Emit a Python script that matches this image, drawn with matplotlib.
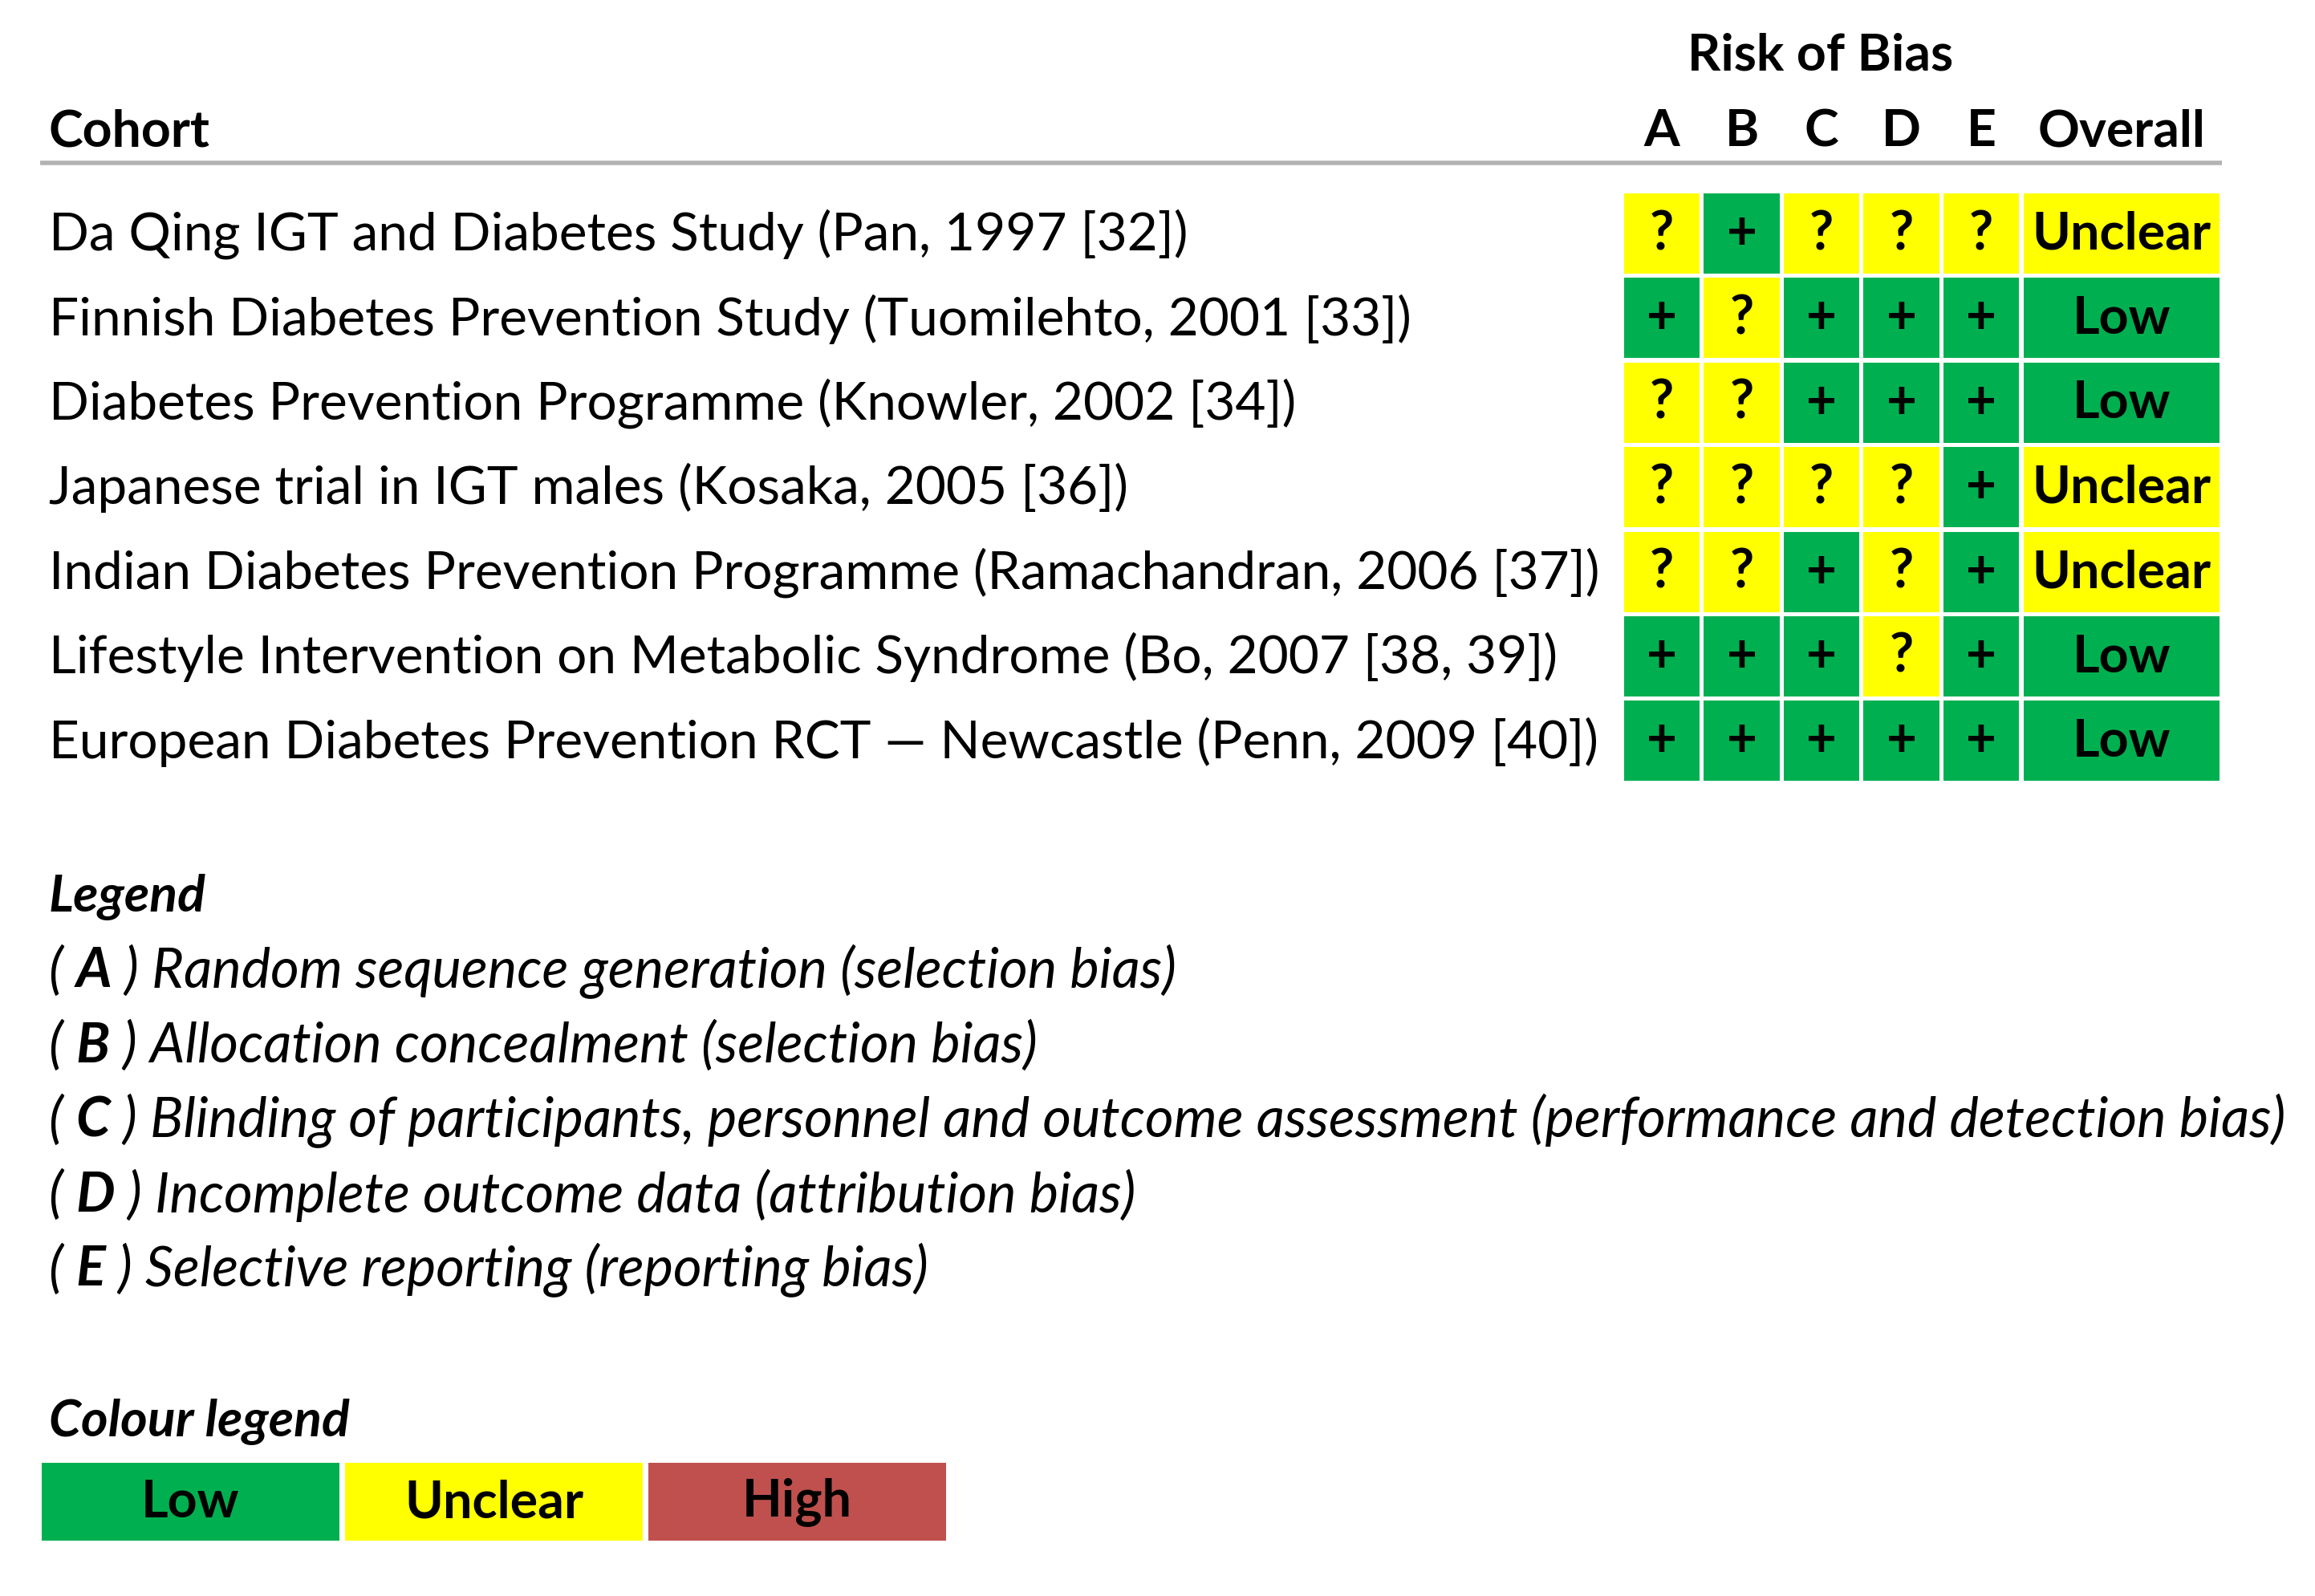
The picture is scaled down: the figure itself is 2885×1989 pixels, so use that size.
import matplotlib
matplotlib.use("Agg")
import matplotlib.pyplot as plt
from matplotlib.patches import Rectangle

FONT = ["Lato", "DejaVu Sans"]

# risk of bias table
cohorts = [
    "Da Qing IGT and Diabetes Study (Pan, 1997 [32])",
    "Finnish Diabetes Prevention Study (Tuomilehto, 2001 [33])",
    "Diabetes Prevention Programme (Knowler, 2002 [34])",
    "Japanese trial in IGT males (Kosaka, 2005 [36])",
    "Indian Diabetes Prevention Programme (Ramachandran, 2006 [37])",
    "Lifestyle Intervention on Metabolic Syndrome (Bo, 2007 [38, 39])",
    "European Diabetes Prevention RCT \u2014 Newcastle (Penn, 2009 [40])",
]
domains = ["A", "B", "C", "D", "E"]
bias_A = ["?", "+", "?", "?", "?", "+", "+"]
bias_B = ["+", "?", "?", "?", "?", "+", "+"]
bias_C = ["?", "+", "+", "?", "+", "+", "+"]
bias_D = ["?", "+", "+", "?", "?", "?", "+"]
bias_E = ["?", "+", "+", "+", "+", "+", "+"]
overall = ["Unclear", "Low", "Low", "Unclear", "Unclear", "Low", "Low"]

legend_keys = ["A", "B", "C", "D", "E"]
legend_text = [
    "Random sequence generation (selection bias)",
    "Allocation concealment (selection bias)",
    "Blinding of participants, personnel and outcome assessment (performance and detection bias)",
    "Incomplete outcome data (attribution bias)",
    "Selective reporting (reporting bias)",
]
colour_levels = ["Low", "Unclear", "High"]

GREEN = "#00B050"
YELLOW = "#FFFF00"
RED = "#C0504D"
symbol_colour = {"+": GREEN, "?": YELLOW}
level_colour = {"Low": GREEN, "Unclear": YELLOW, "High": RED}

W, H = 2885, 1990
fig = plt.figure(figsize=(W / 100, H / 100), dpi=100)
ax = fig.add_axes([0, 0, 1, 1])
ax.set_xlim(0, W)
ax.set_ylim(H, 0)
ax.axis("off")
renderer = fig.canvas.get_renderer()

S = 0.995  # small global correction of the layout


def fit_size(s, target, weight="normal", style="normal"):
    t = ax.text(0, 0, s, fontsize=40, fontweight=weight, fontstyle=style, family=FONT)
    w = t.get_window_extent(renderer).width
    t.remove()
    return 40 * target * S / w


def text_width(s, size, weight="normal", style="normal"):
    t = ax.text(0, 0, s, fontsize=size, fontweight=weight, fontstyle=style, family=FONT)
    w = t.get_window_extent(renderer).width
    t.remove()
    return w


# layout (pixels)
left_x = 61 * S
row_y0, row_step = 292, 105.4
cell_h = 100
col_left0, col_step, col_w = 2034 * S, 100 * S, 95 * S
over_left, over_w = 2535 * S, 245 * S
head_y = 164

row_fs = fit_size(cohorts[4], 1940)
head_fs = fit_size("Cohort", 202, weight="bold")
over_fs = fit_size("Unclear", 224, weight="bold")

# header
ax.text(2280 * S, 69, "Risk of Bias", fontsize=head_fs, fontweight="bold",
        family=FONT, ha="center", va="center")
ax.text(left_x, head_y, "Cohort", fontsize=head_fs, fontweight="bold",
        family=FONT, ha="left", va="center")
for j, d in enumerate(domains):
    ax.text(col_left0 + j * col_step + col_w / 2, head_y, d, fontsize=head_fs,
            fontweight="bold", family=FONT, ha="center", va="center")
ax.text(over_left + over_w / 2, head_y, "Overall", fontsize=head_fs,
        fontweight="bold", family=FONT, ha="center", va="center")
ax.plot([50 * S, 2783 * S], [204, 204], color="#b3b3b3", lw=4,
        solid_capstyle="butt")

# rows
table = [bias_A, bias_B, bias_C, bias_D, bias_E]
for i, name in enumerate(cohorts):
    yc = row_y0 + i * row_step
    ax.text(left_x, yc, name, fontsize=row_fs, family=FONT, ha="left", va="center")
    for j, col in enumerate(table):
        x0 = col_left0 + j * col_step
        ax.add_patch(Rectangle((x0, yc - cell_h / 2), col_w, cell_h,
                               facecolor=symbol_colour[col[i]], edgecolor="none"))
        ax.text(x0 + col_w / 2, yc, col[i], fontsize=row_fs, fontweight="bold",
                family=FONT, ha="center", va="center")
    ax.add_patch(Rectangle((over_left, yc - cell_h / 2), over_w, cell_h,
                           facecolor=level_colour[overall[i]], edgecolor="none"))
    ax.text(over_left + over_w / 2, yc, overall[i], fontsize=over_fs,
            fontweight="bold", family=FONT, ha="center", va="center")

# legend
leg_fs = fit_size("( C ) " + legend_text[2], 2799, style="italic")
ax.text(left_x, 1118, "Legend", fontsize=head_fs, fontweight="bold",
        fontstyle="italic", family=FONT, ha="left", va="center")
for k, (key, desc) in enumerate(zip(legend_keys, legend_text)):
    y = 1211 + k * 93
    x = left_x
    pieces = [("( ", "normal"), (key, "bold"), (" ) " + desc, "normal")]
    for s, wt in pieces:
        ax.text(x, y, s, fontsize=leg_fs, fontweight=wt, fontstyle="italic",
                family=FONT, ha="left", va="center")
        x += text_width(s, leg_fs, weight=wt, style="italic")

# colour legend
ax.text(left_x, 1772, "Colour legend", fontsize=head_fs, fontweight="bold",
        fontstyle="italic", family=FONT, ha="left", va="center")
box_x0, box_step, box_w = 52 * S, 380 * S, 373 * S
box_y, box_h = 1824, 97
for k, lvl in enumerate(colour_levels):
    x0 = box_x0 + k * box_step
    ax.add_patch(Rectangle((x0, box_y), box_w, box_h, facecolor=level_colour[lvl],
                           edgecolor="none"))
    ax.text(x0 + box_w / 2, box_y + box_h / 2, lvl, fontsize=over_fs,
            fontweight="bold", family=FONT, ha="center", va="center")

fig.savefig("out.png", dpi=100, facecolor="white")
